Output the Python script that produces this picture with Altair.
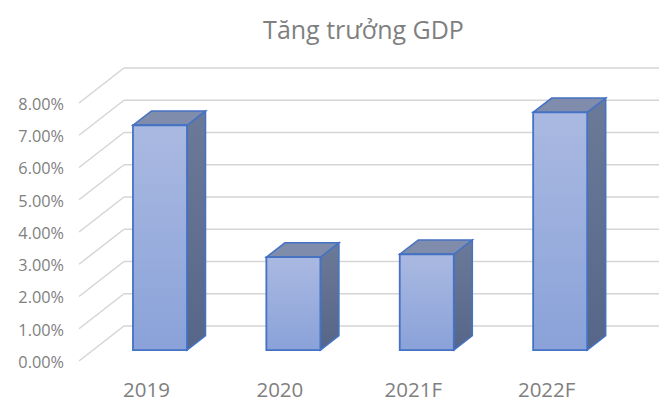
import json
import altair as alt
import pandas as pd

categories = ["2019", "2020", "2021F", "2022F"]
growth = [6.97, 2.88, 2.97, 7.37]
levels = [0, 1, 2, 3, 4, 5, 6, 7, 8]

# 3D projection, in axis units
WALL_DY = 1.085
WALL_DX = 0.337
BAR_FLOOR = 0.34
BAR_LEFT = -0.0975
BAR_W = 0.405
DEPTH_X = 0.139
DEPTH_Y = 0.443
X_MIN, X_MAX = -0.502, 3.846
Y_MAX = 9.085
GREY = "#7f7f7f"
FONT = "Open Sans"
EDGE = "#4472c4"
GRID = "#d5d5d5"

xs = alt.Scale(domain=[X_MIN, X_MAX], nice=False, zero=False)
ys = alt.Scale(domain=[0, Y_MAX], nice=False, zero=False)

cat_expr = json.dumps(categories) + "[datum.value]"
x_axis = alt.Axis(values=list(range(len(categories))), labelExpr=cat_expr, ticks=False, domain=False,
                  grid=False, labelFont=FONT, labelFontSize=20.5, labelColor=GREY, labelPadding=19,
                  labelAngle=0, labelAlign="center", title=None)
y_axis = alt.Axis(values=levels, labelExpr="format(datum.value, '.2f') + '%'", ticks=False, domain=False,
                  grid=False, labelFont=FONT, labelFontSize=16.3, labelColor=GREY, labelPadding=15.5,
                  labelOffset=1.5, title=None)


def X(f="x"):
    return alt.X(f"{f}:Q", scale=xs, axis=x_axis)


def Y(f="y"):
    return alt.Y(f"{f}:Q", scale=ys, axis=y_axis)


def grad(top, bottom):
    return alt.Gradient(
        gradient="linear", x1=0, x2=0, y1=0, y2=1,
        stops=[alt.GradientStop(color=top, offset=0), alt.GradientStop(color=bottom, offset=1)],
    )


grid = pd.DataFrame({"lv": levels})
grid["front_x"] = X_MIN
grid["back_x"] = X_MIN + WALL_DX
grid["end_x"] = X_MAX
grid["front_y"] = grid["lv"]
grid["back_y"] = grid["lv"] + WALL_DY

diag = alt.Chart(grid).mark_rule(color=GRID, strokeWidth=1.5).encode(
    x=X("front_x"), x2="back_x:Q", y=Y("front_y"), y2="back_y:Q")
wall = alt.Chart(grid).mark_rule(color=GRID, strokeWidth=1.5).encode(
    x=X("back_x"), x2="end_x:Q", y=Y("back_y"), y2="back_y:Q")

side_rows, top_rows, front_rows = [], [], []
for i, (c, v) in enumerate(zip(categories, growth)):
    L = i + BAR_LEFT
    R = L + BAR_W
    b = BAR_FLOOR
    t = BAR_FLOOR + v
    side_rows += [
        {"c": c, "x": R, "y": b, "y2": t},
        {"c": c, "x": R + DEPTH_X, "y": b + DEPTH_Y, "y2": t + DEPTH_Y},
    ]
    top_rows += [
        {"c": c, "x": L, "y": t, "y2": t},
        {"c": c, "x": L + DEPTH_X, "y": t, "y2": t + DEPTH_Y},
        {"c": c, "x": R, "y": t, "y2": t + DEPTH_Y},
        {"c": c, "x": R + DEPTH_X, "y": t + DEPTH_Y, "y2": t + DEPTH_Y},
    ]
    front_rows.append({"c": c, "x": L, "x2": R, "y": b, "y2": t})

side = alt.Chart(pd.DataFrame(side_rows)).mark_area(
    color=grad("#6c7a99", "#566688"), stroke=EDGE, strokeWidth=1.5, opacity=1
).encode(x=X(), y=Y(), y2="y2:Q", detail="c:N")
top = alt.Chart(pd.DataFrame(top_rows)).mark_area(
    color="#808cab", stroke=EDGE, strokeWidth=1.5, opacity=1
).encode(x=X(), y=Y(), y2="y2:Q", detail="c:N")
front = alt.Chart(pd.DataFrame(front_rows)).mark_bar(
    color=grad("#aab9e1", "#8aa2d9"), stroke=EDGE, strokeWidth=1.8, opacity=1
).encode(x=X(), x2="x2:Q", y=Y(), y2="y2:Q")

chart = alt.layer(diag, wall, side, top, front).properties(
    width=580, height=293,
    background="white",
    autosize=alt.AutoSizeParams(type="none"),
    padding={"left": 71, "top": 60, "right": 5, "bottom": 40},
    title=alt.TitleParams("Tăng trưởng GDP", font=FONT, fontSize=25, fontWeight="normal",
                          color=GREY, anchor="middle", dx=-5.5, offset=23),
).configure_view(stroke="transparent")

chart.save("out.html", embed_options={"renderer": "svg", "actions": False})
